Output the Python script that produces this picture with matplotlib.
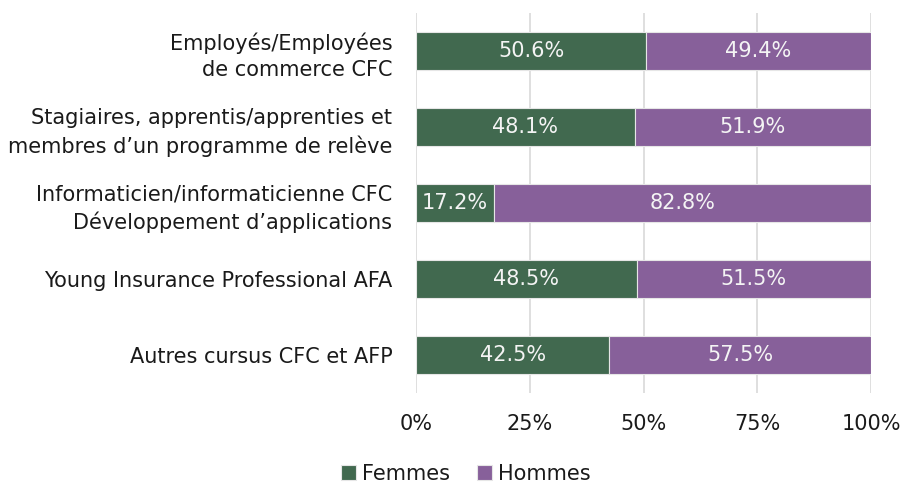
import numpy as np
import matplotlib.pyplot as plt

categories = [
    "Employés/Employées\nde commerce CFC",
    "Stagiaires, apprentis/apprenties et\nmembres d’un programme de relève",
    "Informaticien/informaticienne CFC\nDéveloppement d’applications",
    "Young Insurance Professional AFA",
    "Autres cursus CFC et AFP",
]
femmes = [50.6, 48.1, 17.2, 48.5, 42.5]
hommes = [49.4, 51.9, 82.8, 51.5, 57.5]
xticks = [0, 25, 50, 75, 100]

green = "#41694f"
purple = "#87609a"

fig = plt.figure(figsize=(9.05, 4.86), dpi=100)
ax = fig.add_axes([0.4597, 0.1914, 0.5027, 0.7816])

y = np.arange(len(categories))
bf = ax.barh(y, femmes, height=0.49, color=green, edgecolor="#e6e6e6", linewidth=0.8, label="Femmes", zorder=3)
bh = ax.barh(y, hommes, left=femmes, height=0.49, color=purple, edgecolor="#e6e6e6", linewidth=0.8, label="Hommes", zorder=3)

for bars, vals in [(bf, femmes), (bh, hommes)]:
    ax.bar_label(bars, labels=[f"{v:.1f}%" for v in vals], label_type="center",
                 color="#f4f4f4", fontsize=15, zorder=4)

ax.set_ylim(len(categories) - 0.5, -0.5)
ax.set_xlim(0, 100)
ax.set_yticks(y)
ax.set_yticklabels(categories, fontsize=15, linespacing=1.4)
ax.set_xticks(xticks)
ax.set_xticklabels([f"{t}%" for t in xticks], fontsize=15)
ax.tick_params(axis="both", length=0, colors="#1a1a1a")
ax.tick_params(axis="x", pad=15)
ax.tick_params(axis="y", pad=17)
ax.grid(axis="x", color="#d9d9d9", linewidth=1.2, zorder=0)
for s in ax.spines.values():
    s.set_visible(False)

leg = ax.legend(loc="center", bbox_to_anchor=(0.11, -0.213), ncol=2, frameon=False,
                fontsize=15, handlelength=0.7, handleheight=0.7, handletextpad=0.3, columnspacing=1.3)
for t in leg.get_texts():
    t.set_color("#1a1a1a")

fig.savefig("out.png", dpi=100)
